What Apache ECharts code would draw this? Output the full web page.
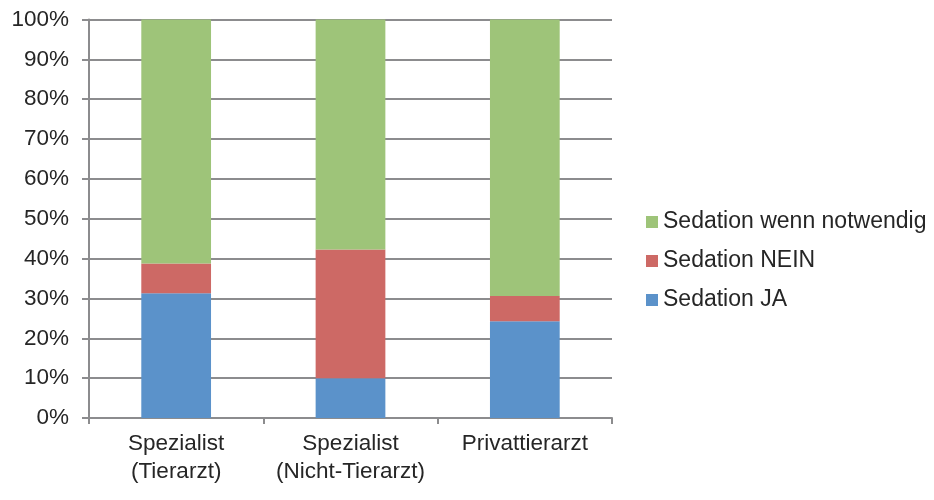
<!DOCTYPE html>
<html>
<head>
<meta charset="utf-8">
<script src="https://cdn.jsdelivr.net/npm/echarts@6/dist/echarts.min.js"></script>
<style>html,body{margin:0;padding:0;background:#fff}#c{width:934px;height:500px}</style>
</head>
<body>
<div id="c"></div>
<script>
const categories = ['Spezialist\n(Tierarzt)', 'Spezialist\n(Nicht-Tierarzt)', 'Privattierarzt'];
const sedationJa = [31.3, 10.0, 24.3];
const sedationNein = [7.5, 32.3, 6.3];
const sedationWennNotwendig = [61.2, 57.7, 69.4];
const yTicks = [0, 10, 20, 30, 40, 50, 60, 70, 80, 90, 100];

const font = 'Liberation Sans, Arial, sans-serif';
const txt = '#262626';
const axisGray = '#8c8c8e';

const chart = echarts.init(document.getElementById('c'));
chart.setOption({
  animation: false,
  textStyle: { fontFamily: font },
  grid: { left: 89, right: 322, top: 19.5, bottom: 82, containLabel: false },
  legend: {
    orient: 'vertical',
    left: 641,
    top: 204,
    itemWidth: 12,
    itemHeight: 12,
    itemGap: 13,
    icon: 'rect',
    data: ['Sedation wenn notwendig', 'Sedation NEIN', 'Sedation JA'],
    textStyle: { fontSize: 23, color: txt, fontFamily: font, lineHeight: 26, padding: [0, 0, 0, 0] }
  },
  xAxis: {
    type: 'category',
    data: categories,
    boundaryGap: true,
    axisLine: { lineStyle: { color: axisGray, width: 2 } },
    axisTick: { show: true, length: 6, lineStyle: { color: axisGray, width: 2 } },
    axisLabel: { fontSize: 22.5, color: txt, lineHeight: 28, margin: 12, interval: 0 }
  },
  yAxis: {
    type: 'value',
    min: yTicks[0],
    max: yTicks[yTicks.length - 1],
    interval: 10,
    axisLine: { show: true, lineStyle: { color: axisGray, width: 2 } },
    axisTick: { show: true, length: 7, lineStyle: { color: axisGray, width: 2 } },
    splitLine: { lineStyle: { color: axisGray, width: 2 } },
    axisLabel: { fontSize: 22.5, color: txt, margin: 20, formatter: '{value}%' }
  },
  series: [
    { name: 'Sedation JA', type: 'bar', stack: 'a', barWidth: '40%', data: sedationJa, itemStyle: { color: '#5b92ca' } },
    { name: 'Sedation NEIN', type: 'bar', stack: 'a', barWidth: '40%', data: sedationNein, itemStyle: { color: '#cd6965' } },
    { name: 'Sedation wenn notwendig', type: 'bar', stack: 'a', barWidth: '40%', data: sedationWennNotwendig, itemStyle: { color: '#9ec479' } }
  ]
});
</script>
</body>
</html>
